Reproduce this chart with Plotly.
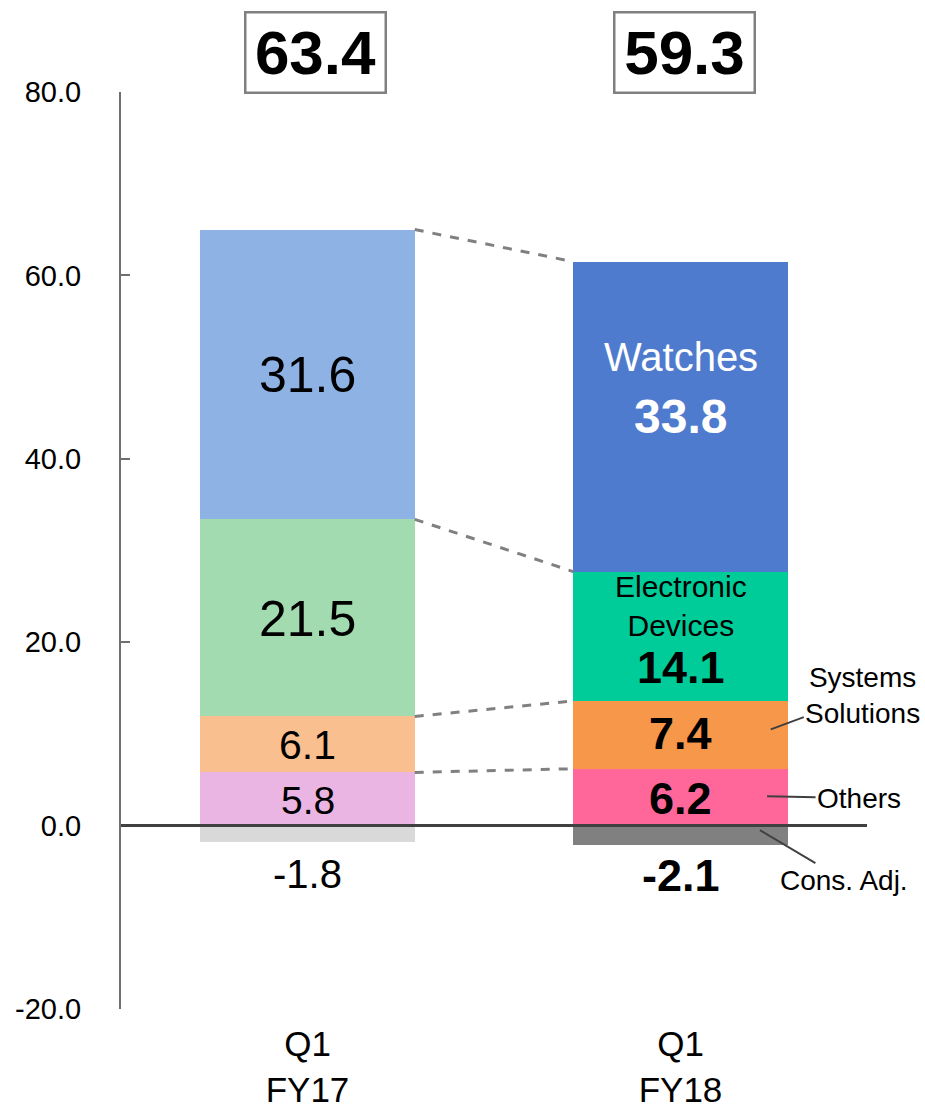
import plotly.graph_objects as go

# Quarterly results by segment (billion yen)
periods = ["Q1<br>FY17", "Q1<br>FY18"]
totals = ["63.4", "59.3"]
others = [5.8, 6.2]
systems = [6.1, 7.4]
electronic = [21.5, 14.1]
watches = [31.6, 33.8]
cons_adj = [-1.8, -2.1]
y_ticks = [-20, 0, 20, 40, 60, 80]
y_tick_labels = ["-20.0", "0.0", "20.0", "40.0", "60.0", "80.0"]

colors_fy17 = ["#EAB4E3", "#F9BF8F", "#A2DBB0", "#8EB2E3", "#D9D9D9"]
colors_fy18 = ["#FF6699", "#F6974A", "#00CC99", "#4F7BCF", "#808080"]

FONT = "Liberation Sans, Arial, sans-serif"
xpos = [0, 1]
BAR_W = 0.575

fig = go.Figure()
series = [others, systems, electronic, watches, cons_adj]
for i, vals in enumerate(series):
    fig.add_trace(go.Bar(
        x=xpos, y=vals, width=BAR_W,
        marker=dict(color=[colors_fy17[i], colors_fy18[i]], line=dict(width=0)),
        showlegend=False, hoverinfo="skip",
    ))

# dashed connectors between segment tops
def cum(idx):
    out = []
    s = 0.0
    for v in series[:4]:
        s += v[idx]
        out.append(round(s, 2))
    return out

c0, c1 = cum(0), cum(1)
for a, b in zip(c0, c1):
    fig.add_trace(go.Scatter(
        x=[BAR_W / 2, 1 - BAR_W / 2], y=[a, b], mode="lines",
        line=dict(color="#808080", width=3, dash="dash"),
        showlegend=False, hoverinfo="skip",
    ))

ann = []

def seg_mid(vals, k, idx):
    base = sum(v[idx] for v in series[:k])
    return base + vals[idx] / 2

# FY17 labels (regular)
fy17_sizes = [39, 41, 50, 50]
for k, vals in enumerate(series[:4]):
    ann.append(dict(x=0, y=seg_mid(vals, k, 0), text=f"{vals[0]:.1f}",
                    font=dict(size=fy17_sizes[k], color="black", family=FONT),
                    showarrow=False, yanchor="middle", yshift=-1))
ann.append(dict(x=0, y=cons_adj[0], text=f"{cons_adj[0]:.1f}", yanchor="top",
                font=dict(size=40, color="black", family=FONT),
                showarrow=False, yshift=-8))

# FY18 labels (bold)
ann.append(dict(x=1, y=seg_mid(others, 0, 1), text=f"<b>{others[1]:.1f}</b>",
                font=dict(size=45, color="black", family=FONT),
                showarrow=False, yanchor="middle", yshift=-1))
ann.append(dict(x=1, y=seg_mid(systems, 1, 1), text=f"<b>{systems[1]:.1f}</b>",
                font=dict(size=45, color="black", family=FONT),
                showarrow=False, yanchor="middle", yshift=1))
ann.append(dict(x=1, y=seg_mid(electronic, 2, 1), text="Electronic<br>Devices",
                font=dict(size=30, color="black", family=FONT),
                showarrow=False, yanchor="middle", yshift=30))
ann.append(dict(x=1, y=seg_mid(electronic, 2, 1), text=f"<b>{electronic[1]:.1f}</b>",
                font=dict(size=45, color="black", family=FONT),
                showarrow=False, yanchor="middle", yshift=-31))
ann.append(dict(x=1, y=seg_mid(watches, 3, 1), text="Watches",
                font=dict(size=40, color="white", family=FONT),
                showarrow=False, yanchor="middle", yshift=60))
ann.append(dict(x=1, y=seg_mid(watches, 3, 1), text=f"<b>{watches[1]:.1f}</b>",
                font=dict(size=48, color="white", family=FONT),
                showarrow=False, yanchor="middle", yshift=0))
ann.append(dict(x=1, y=cons_adj[1], text=f"<b>{cons_adj[1]:.1f}</b>", yanchor="top",
                font=dict(size=45, color="black", family=FONT),
                showarrow=False, yshift=-3))

# callouts on the right
callout_font = dict(size=28, color="black", family=FONT)
ann.append(dict(x=1.242, y=10.5, text="Systems<br>Solutions", font=callout_font,
                showarrow=True, arrowhead=0, arrowwidth=2, arrowcolor="#404040",
                ax=92, ay=-34))
ann.append(dict(x=1.232, y=3.2, text="Others", font=callout_font,
                showarrow=True, arrowhead=0, arrowwidth=2, arrowcolor="#404040",
                ax=92, ay=2))
ann.append(dict(x=1.213, y=-0.5, text="Cons. Adj.", font=callout_font,
                showarrow=True, arrowhead=0, arrowwidth=2, arrowcolor="#404040",
                ax=84, ay=50))

# boxed totals above the bars
for xi, t, xs in zip(xpos, totals, [8, 4]):
    ann.append(dict(x=xi, y=1.0436, yref="paper", text=f"<b>{t}</b>",
                    font=dict(size=62, color="black", family=FONT),
                    showarrow=False, xshift=xs, yanchor="middle",
                    bordercolor="#808080", borderwidth=2.5, borderpad=0,
                    bgcolor="white", width=138, height=78))

fig.update_layout(
    width=925, height=1109,
    margin=dict(l=121, r=58, t=92, b=100),
    paper_bgcolor="white", plot_bgcolor="white",
    barmode="relative", bargap=0,
    annotations=ann,
    shapes=[dict(type="line", xref="paper", x0=0, x1=1, yref="y", y0=0, y1=0,
                 line=dict(color="#404040", width=3), layer="above")],
    font=dict(family=FONT, color="black"),
)
fig.update_xaxes(range=[-0.5, 1.5], tickvals=xpos, ticktext=periods,
                 showline=False, ticks="", showgrid=False, zeroline=False,
                 automargin=False, ticklabelstandoff=11,
                 tickfont=dict(size=35, color="black", family=FONT))
fig.update_yaxes(range=[-20, 80], tickvals=y_ticks, ticktext=y_tick_labels,
                 showgrid=False, zeroline=False, showline=True, automargin=False,
                 linecolor="#6f6f6f", linewidth=2, ticks="inside", ticklen=9,
                 tickwidth=2, tickcolor="#6f6f6f", ticklabelstandoff=32,
                 tickfont=dict(size=29, color="black", family=FONT))

fig.write_html("out.html")
